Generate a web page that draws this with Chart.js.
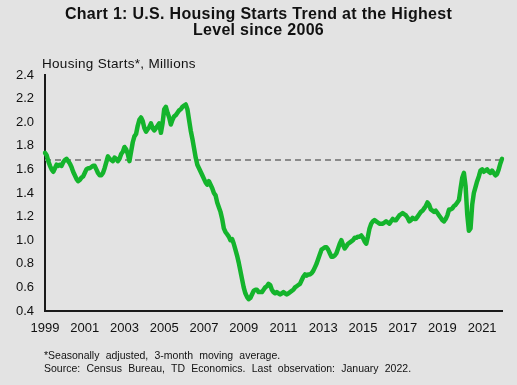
<!DOCTYPE html>
<html>
<head>
<meta charset="utf-8">
<script src="https://cdn.jsdelivr.net/npm/chart.js@4"></script>
<style>
  html, body { margin: 0; padding: 0; }
  body { width: 517px; height: 385px; background: #e3e3e3; overflow: hidden; }
  #wrap { position: relative; width: 517px; height: 385px; font-family: "Liberation Sans", Arial, sans-serif; color: #111; }
  #titre { position: absolute; left: 0; top: 6px; width: 517px; text-align: center; font-weight: bold; font-size: 16px; line-height: 16px; letter-spacing: 0.3px; }
  #unite { position: absolute; left: 42px; top: 56px; font-size: 13.5px; letter-spacing: 0.3px; }
  #notes { position: absolute; left: 44px; top: 349px; font-size: 10.5px; line-height: 13px; word-spacing: 3.3px; }
  canvas { position: absolute; left: 0; top: 0; }
</style>
</head>
<body>
<div id="wrap">
  <canvas id="grafico" width="517" height="385"></canvas>
  <div id="titre">Chart 1: U.S. Housing Starts Trend at the Highest<br>Level since 2006</div>
  <div id="unite">Housing Starts*, Millions</div>
  <div id="notes">*Seasonally adjusted, 3-month moving average.<br>Source: Census Bureau, TD Economics. Last observation: January 2022.</div>
</div>
<script>
// Mises en chantier, moyenne mobile 3 mois (millions), jan 1999 a jan 2022
var anos = [1999, 2000, 2001, 2002, 2003, 2004, 2005, 2006, 2007, 2008, 2009, 2010,
            2011, 2012, 2013, 2014, 2015, 2016, 2017, 2018, 2019, 2020, 2021, 2022];

var s1999 = [1.74, 1.72, 1.67, 1.63, 1.60, 1.58, 1.61, 1.64, 1.63, 1.64, 1.63, 1.66];
var s2000 = [1.68, 1.69, 1.67, 1.65, 1.62, 1.58, 1.55, 1.52, 1.50, 1.51, 1.53, 1.54];
var s2001 = [1.57, 1.60, 1.61, 1.61, 1.62, 1.63, 1.63, 1.60, 1.57, 1.55, 1.55, 1.57];
var s2002 = [1.61, 1.66, 1.71, 1.69, 1.68, 1.67, 1.70, 1.69, 1.67, 1.69, 1.73, 1.75];
var s2003 = [1.79, 1.77, 1.73, 1.67, 1.75, 1.83, 1.88, 1.90, 1.97, 2.02, 2.04, 2.01];
var s2004 = [1.95, 1.92, 1.94, 1.96, 1.99, 1.95, 1.93, 1.95, 1.97, 1.99, 1.91, 1.99];
var s2005 = [2.11, 2.13, 2.08, 2.04, 1.98, 2.02, 2.05, 2.06, 2.08, 2.10, 2.11, 2.13];
var s2006 = [2.14, 2.15, 2.11, 2.02, 1.93, 1.86, 1.78, 1.70, 1.64, 1.61, 1.58, 1.55];
var s2007 = [1.52, 1.49, 1.47, 1.50, 1.47, 1.44, 1.40, 1.38, 1.32, 1.28, 1.24, 1.18];
var s2008 = [1.10, 1.07, 1.05, 1.03, 1.00, 1.01, 0.97, 0.92, 0.87, 0.81, 0.74, 0.67];
var s2009 = [0.60, 0.55, 0.52, 0.50, 0.51, 0.54, 0.57, 0.58, 0.58, 0.56, 0.56, 0.56];
var s2010 = [0.58, 0.60, 0.61, 0.63, 0.62, 0.58, 0.56, 0.55, 0.56, 0.55, 0.54, 0.55];
var s2011 = [0.56, 0.55, 0.54, 0.55, 0.56, 0.57, 0.58, 0.60, 0.61, 0.62, 0.63, 0.66];
var s2012 = [0.69, 0.71, 0.70, 0.71, 0.71, 0.72, 0.74, 0.77, 0.80, 0.84, 0.88, 0.92];
var s2013 = [0.93, 0.94, 0.94, 0.92, 0.89, 0.86, 0.86, 0.87, 0.89, 0.93, 0.97, 1.00];
var s2014 = [0.96, 0.93, 0.95, 0.97, 0.98, 0.99, 1.00, 1.02, 1.02, 1.03, 1.03, 1.04];
var s2015 = [1.02, 0.99, 0.97, 1.03, 1.10, 1.14, 1.16, 1.17, 1.16, 1.15, 1.14, 1.14];
var s2016 = [1.14, 1.15, 1.16, 1.15, 1.14, 1.16, 1.18, 1.17, 1.17, 1.19, 1.21, 1.22];
var s2017 = [1.23, 1.22, 1.21, 1.19, 1.16, 1.17, 1.19, 1.18, 1.18, 1.20, 1.22, 1.24];
var s2018 = [1.25, 1.27, 1.29, 1.32, 1.30, 1.26, 1.25, 1.24, 1.25, 1.23, 1.21, 1.19];
var s2019 = [1.17, 1.16, 1.18, 1.21, 1.26, 1.26, 1.27, 1.29, 1.30, 1.32, 1.34, 1.44];
var s2020 = [1.53, 1.57, 1.46, 1.22, 1.08, 1.10, 1.30, 1.40, 1.45, 1.50, 1.54, 1.59];
var s2021 = [1.60, 1.58, 1.59, 1.60, 1.58, 1.57, 1.59, 1.57, 1.55, 1.56, 1.60, 1.65];
var s2022 = [1.69];

var niveauActuel = 1.68; // ligne pointillee : dernier niveau
var ticksY = [0.4, 0.6, 0.8, 1.0, 1.2, 1.4, 1.6, 1.8, 2.0, 2.2, 2.4];

var series = [s1999, s2000, s2001, s2002, s2003, s2004, s2005, s2006, s2007, s2008, s2009, s2010,
              s2011, s2012, s2013, s2014, s2015, s2016, s2017, s2018, s2019, s2020, s2021, s2022];

var valores = [];
var rotulos = [];
series.forEach(function (s, i) {
    s.forEach(function (v, m) {
        valores.push(v);
        rotulos.push(m === 0 ? String(anos[i]) : '');
    });
});
var linhaNivel = valores.map(function () { return niveauActuel; });

var fonte = { family: "'Liberation Sans', Arial, sans-serif", size: 13 };

var myChart = new Chart(document.getElementById('grafico'), {
    type: 'line',
    data: {
        labels: rotulos,
        datasets: [{
            data: valores,
            borderColor: '#14b42c',
            borderWidth: 4.5,
            pointRadius: 0,
            tension: 0,
            borderJoinStyle: 'round',
            borderCapStyle: 'round',
            order: 1
        }, {
            data: linhaNivel,
            borderColor: '#8a8a8a',
            borderWidth: 2,
            borderDash: [6, 4],
            pointRadius: 0,
            order: 2
        }]
    },
    options: {
        responsive: false,
        animation: false,
        events: [],
        layout: { padding: { left: 0, right: 15, top: 75, bottom: 44 } },
        plugins: { legend: { display: false }, tooltip: { enabled: false } },
        scales: {
            x: {
                type: 'category',
                offset: false,
                grid: { display: false, drawTicks: false },
                border: { display: true, color: '#1a1a1a', width: 2 },
                afterFit: function (scale) { scale.height = 30; },
                ticks: {
                    autoSkip: false,
                    maxRotation: 0,
                    padding: 10,
                    color: '#111',
                    font: fonte,
                    callback: function (val, idx) {
                        var r = rotulos[idx];
                        return (r !== '' && (parseInt(r, 10) % 2 === 1)) ? r : null;
                    }
                }
            },
            y: {
                min: 0.4,
                max: 2.4,
                afterFit: function (scale) { scale.width = 45; },
                afterBuildTicks: function (scale) {
                    scale.ticks = ticksY.map(function (v) { return { value: v }; });
                },
                grid: { display: false, drawTicks: false },
                border: { display: true, color: '#1a1a1a', width: 2 },
                ticks: {
                    padding: 11,
                    color: '#111',
                    font: fonte,
                    callback: function (v) { return v.toFixed(1); }
                }
            }
        }
    }
});
</script>
</body>
</html>
